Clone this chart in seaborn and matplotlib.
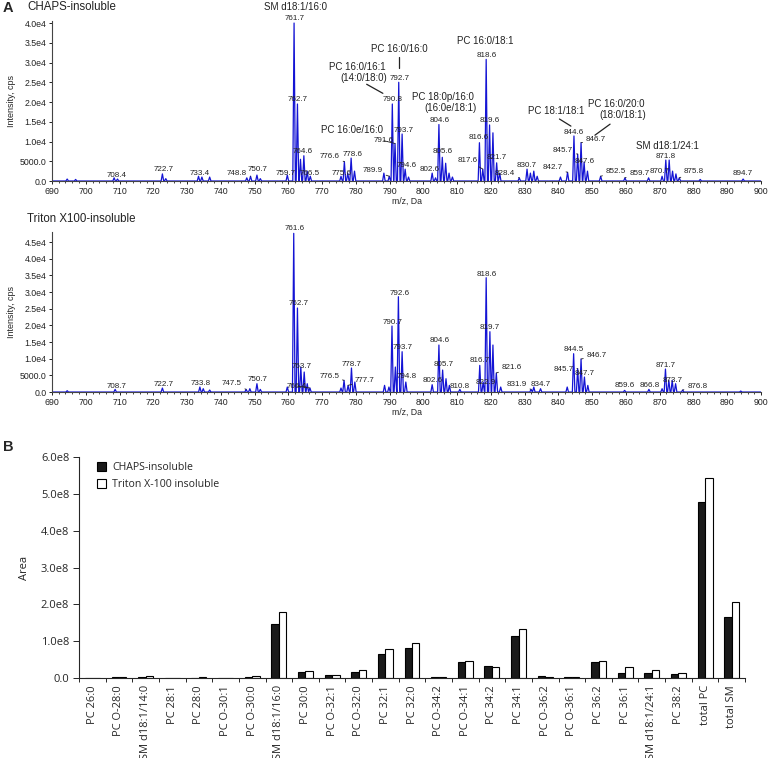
import matplotlib
matplotlib.use("Agg")
import pandas as pd
import matplotlib.pyplot as plt
import seaborn as sns
from matplotlib.ticker import MultipleLocator

# ---------------- panel A: peak lists (m/z, intensity in 1e4 cps) ----------------
chaps_mz = [694.5, 697.0, 708.4, 709.4, 722.7, 723.7, 733.4, 734.4, 736.7, 747.7, 748.8, 750.7,
            751.7, 759.7, 761.7, 762.7, 763.6, 764.6, 765.6, 766.5, 775.6, 776.6, 777.6, 778.6,
            779.6, 788.3, 789.9, 790.8, 791.6, 792.7, 793.7, 794.6, 795.6, 802.6, 803.6, 804.6,
            805.6, 806.6, 807.6, 808.6, 816.6, 817.6, 818.6, 819.6, 820.6, 821.7, 822.6, 828.4,
            830.7, 831.7, 832.7, 833.7, 840.6, 842.7, 844.6, 845.7, 846.7, 847.6, 848.6, 852.5,
            859.7, 866.7, 870.7, 871.8, 872.8, 873.8, 874.8, 875.8, 882.0, 894.7]
chaps_int = [0.05, 0.04, 0.08, 0.05, 0.18, 0.06, 0.12, 0.10, 0.10, 0.08, 0.12, 0.15,
             0.06, 0.15, 4.00, 1.95, 0.55, 0.64, 0.25, 0.12, 0.12, 0.49, 0.20, 0.58,
             0.25, 0.20, 0.12, 1.95, 0.95, 2.50, 1.19, 0.30, 0.10, 0.20, 0.08, 1.43,
             0.60, 0.45, 0.20, 0.10, 0.97, 0.30, 3.08, 1.42, 1.22, 0.46, 0.20, 0.08,
             0.30, 0.20, 0.25, 0.12, 0.10, 0.22, 1.14, 0.68, 0.97, 0.48, 0.25, 0.12,
             0.08, 0.08, 0.12, 0.53, 0.53, 0.25, 0.18, 0.08, 0.04, 0.05]

triton_mz = [694.5, 708.7, 722.7, 733.8, 734.8, 736.7, 747.5, 748.6, 750.7, 751.7, 759.7, 761.6,
             762.7, 763.7, 764.7, 765.6, 766.4, 775.6, 776.5, 777.7, 778.7, 779.7, 788.5, 789.8,
             790.7, 791.7, 792.6, 793.7, 794.8, 802.6, 804.6, 805.7, 806.7, 807.7, 810.8, 816.7,
             817.7, 818.6, 819.7, 820.6, 821.6, 822.9, 831.9, 832.7, 834.7, 842.6, 844.5, 845.7,
             846.7, 847.7, 848.7, 859.6, 866.8, 870.7, 871.7, 872.7, 873.7, 874.7, 876.8, 894.0]
triton_int = [0.04, 0.08, 0.12, 0.15, 0.10, 0.06, 0.08, 0.10, 0.25, 0.08, 0.15, 4.76,
              2.52, 0.75, 0.60, 0.25, 0.12, 0.12, 0.35, 0.20, 0.72, 0.30, 0.20, 0.15,
              1.98, 0.75, 2.86, 1.21, 0.30, 0.22, 1.41, 0.66, 0.40, 0.20, 0.08, 0.80,
              0.30, 3.43, 1.81, 1.41, 0.57, 0.15, 0.08, 0.15, 0.10, 0.15, 1.15, 0.70,
              0.99, 0.45, 0.20, 0.05, 0.08, 0.10, 0.69, 0.35, 0.35, 0.25, 0.06, 0.03]

# peak labels: (text, label m/z, label height, leader line to the peak?)
chaps_labels = [
    ("708.4", 709.2, 0.15, False), ("722.7", 723.2, 0.28, False), ("733.4", 733.8, 0.20, False),
    ("748.8", 744.8, 0.20, True), ("750.7", 751.0, 0.28, False), ("759.7", 759.3, 0.18, False),
    ("761.7", 762.0, 4.12, False), ("SM d18:1/16:0", 762.0, 4.41, False),
    ("762.7", 762.9, 2.07, False), ("764.6", 764.4, 0.74, False), ("766.5", 766.4, 0.19, False),
    ("775.6", 775.8, 0.19, False), ("776.6", 772.3, 0.62, True), ("778.6", 779.1, 0.68, False),
    ("PC 16:0e/16:0", 778.9, 1.29, False), ("789.9", 785.0, 0.26, True),
    ("790.8", 790.8, 2.07, False), ("791.6", 788.3, 1.02, True), ("792.7", 792.9, 2.60, False),
    ("793.7", 794.1, 1.27, False), ("794.6", 795.1, 0.39, False),
    ("PC 16:0/16:0", 792.8, 3.34, False), ("PC 16:0/16:1", 780.3, 2.89, False),
    ("(14:0/18:0)", 782.4, 2.60, False), ("802.6", 801.8, 0.28, False),
    ("804.6", 804.7, 1.54, False), ("805.6", 805.7, 0.74, False),
    ("PC 18:0p/16:0", 805.8, 2.13, False), ("(16:0e/18:1)", 808.1, 1.85, False),
    ("816.6", 816.5, 1.09, False), ("817.6", 813.2, 0.53, True), ("818.6", 818.8, 3.19, False),
    ("PC 16:0/18:1", 818.4, 3.54, False), ("819.6", 819.7, 1.54, False),
    ("821.7", 821.7, 0.59, False), ("828.4", 824.2, 0.20, True), ("830.7", 830.6, 0.40, False),
    ("842.7", 838.3, 0.33, True), ("844.6", 844.6, 1.24, False), ("845.7", 841.4, 0.76, True),
    ("846.7", 851.1, 1.04, True), ("847.6", 847.9, 0.50, False),
    ("PC 18:1/18:1", 839.3, 1.77, False), ("PC 16:0/20:0", 857.2, 1.95, False),
    ("(18:0/18:1)", 859.0, 1.66, False), ("852.5", 857.0, 0.23, True),
    ("859.7", 864.0, 0.20, True), ("870.7", 869.9, 0.23, False), ("871.8", 871.8, 0.63, False),
    ("SM d18:1/24:1", 872.3, 0.89, False), ("875.8", 880.2, 0.23, True),
    ("894.7", 894.6, 0.18, False),
]
# extra leader lines from compound names
chaps_leaders = [((792.7, 3.15), (792.7, 2.85)), ((783.2, 2.45), (788.0, 2.22)),
                 ((840.3, 1.57), (843.7, 1.39)), ((855.3, 1.44), (850.8, 1.16))]

triton_labels = [
    ("708.7", 709.2, 0.18, False), ("722.7", 723.2, 0.23, False), ("733.8", 734.1, 0.26, False),
    ("747.5", 743.2, 0.26, True), ("750.7", 750.9, 0.38, False), ("766.4", 762.5, 0.18, True),
    ("761.6", 762.0, 4.90, False), ("762.7", 763.0, 2.66, False), ("763.7", 764.0, 0.76, False),
    ("776.5", 772.1, 0.48, True), ("778.7", 778.8, 0.84, False), ("777.7", 782.7, 0.34, True),
    ("790.7", 790.9, 2.09, False), ("792.6", 792.9, 2.97, False), ("793.7", 793.9, 1.33, False),
    ("794.8", 795.1, 0.48, False), ("802.6", 802.8, 0.36, False), ("804.6", 804.7, 1.54, False),
    ("805.7", 805.9, 0.84, False), ("810.8", 810.9, 0.18, False), ("816.7", 816.8, 0.94, False),
    ("818.6", 818.8, 3.53, False), ("819.7", 819.7, 1.93, False), ("821.6", 826.2, 0.74, True),
    ("822.9", 818.6, 0.28, False), ("831.9", 827.6, 0.23, True), ("834.7", 834.8, 0.23, False),
    ("844.5", 844.6, 1.29, False), ("845.7", 841.5, 0.69, True), ("846.7", 851.3, 1.09, True),
    ("847.7", 847.9, 0.56, False), ("859.6", 859.7, 0.21, False), ("866.8", 866.9, 0.21, False),
    ("871.7", 871.8, 0.81, False), ("873.7", 873.9, 0.36, False), ("876.8", 881.1, 0.18, True),
]

# ---------------- panel B: bar data ----------------
lipids = ["PC 26:0", "PC O-28:0", "SM d18:1/14:0", "PC 28:1", "PC 28:0", "PC O-30:1",
          "PC O-30:0", "SM d18:1/16:0", "PC 30:0", "PC O-32:1", "PC O-32:0", "PC 32:1",
          "PC 32:0", "PC O-34:2", "PC O-34:1", "PC 34:2", "PC 34:1", "PC O-36:2",
          "PC O-36:1", "PC 36:2", "PC 36:1", "SM d18:1/24:1", "PC 38:2", "total PC", "total SM"]
chaps_area = [0.002, 0.02, 0.02, 0.005, 0.005, 0.005, 0.03, 1.48, 0.16, 0.07, 0.16, 0.65,
              0.81, 0.02, 0.43, 0.34, 1.13, 0.05, 0.02, 0.43, 0.13, 0.14, 0.10, 4.77, 1.66]
triton_area = [0.01, 0.04, 0.06, 0.01, 0.015, 0.01, 0.06, 1.78, 0.19, 0.09, 0.23, 0.80,
               0.94, 0.03, 0.45, 0.30, 1.32, 0.04, 0.03, 0.46, 0.30, 0.22, 0.14, 5.44, 2.06]

sns.set_style("ticks")
plt.rcParams["font.family"] = ["Liberation Sans", "DejaVu Sans"]

fig = plt.figure(figsize=(7.68, 7.58), dpi=100)
blue = "#1414d4"


def spectrum_trace(mz, inten, hw=0.38):
    xs, ys = [690.0], [0.0]
    for m, h in sorted(zip(mz, inten)):
        xs += [m - hw, m, m + hw]
        ys += [0.0, h * 1e4, 0.0]
    xs.append(900.0)
    ys.append(0.0)
    return pd.DataFrame({"mz": xs, "cps": ys})


def draw_spectrum(ax, mz, inten, labels, ymax, ytop, leaders=()):
    df = spectrum_trace(mz, inten)
    sns.lineplot(data=df, x="mz", y="cps", sort=False, estimator=None,
                 color=blue, lw=0.9, ax=ax)
    ax.set_xlim(690, 900)
    ax.set_ylim(0, ymax)
    sns.despine(ax=ax)
    ax.xaxis.set_major_locator(MultipleLocator(10))
    ax.xaxis.set_minor_locator(MultipleLocator(2))
    yt = [i * 5000 for i in range(int(ytop / 5000) + 1)]
    ax.set_yticks(yt)
    ax.set_yticklabels(["0.0", "5000.0"] + [f"{v / 1e4:.1f}e4" for v in yt[2:]])
    ax.tick_params(axis="both", labelsize=6.3, length=2.5, width=0.7, pad=1.5, colors="#222222")
    ax.tick_params(axis="x", which="minor", length=1.5, width=0.6)
    for s in ax.spines.values():
        s.set_linewidth(0.8)
        s.set_color("#444444")
    ax.set_xlabel("m/z, Da", fontsize=6.3, labelpad=1)
    ax.set_ylabel("Intensity, cps", fontsize=6.5, labelpad=3)
    peaks = dict(zip(mz, inten))
    for text, tx, ty, lead in labels:
        size = 5.8 if text[0].isdigit() else 7
        if lead:
            pm = float(text)
            ax.annotate(text, xy=(pm, peaks.get(pm, 0.1) * 1e4), xytext=(tx, ty * 1e4),
                        ha="center", va="center", fontsize=size, color="#222222",
                        arrowprops=dict(arrowstyle="-", lw=0.6, color="#222222",
                                        shrinkA=0, shrinkB=0))
        else:
            ax.text(tx, ty * 1e4, text, ha="center", va="center", fontsize=size,
                    color="#222222", clip_on=False)
    for (x0, y0), (x1, y1) in leaders:
        ax.plot([x0, x1], [y0 * 1e4, y1 * 1e4], color="#222222", lw=0.9)


ax1 = fig.add_axes([0.0677, 0.7612, 0.9232, 0.2110])
draw_spectrum(ax1, chaps_mz, chaps_int, chaps_labels, 4.05e4, 4.0e4, chaps_leaders)

ax2 = fig.add_axes([0.0677, 0.4828, 0.9232, 0.2111])
draw_spectrum(ax2, triton_mz, triton_int, triton_labels, 4.8e4, 4.5e4)

fig.text(0.035, 0.991, "CHAPS-insoluble", fontsize=8.3, va="center", color="#222222")
fig.text(0.035, 0.7107, "Triton X100-insoluble", fontsize=8.3, va="center", color="#222222")
fig.text(0.004, 0.989, "A", fontsize=10.5, fontweight="bold", va="center")
fig.text(0.004, 0.410, "B", fontsize=10.5, fontweight="bold", va="center")

# ---------------- panel B ----------------
bars = pd.DataFrame({
    "lipid": lipids * 2,
    "area": [v * 1e8 for v in chaps_area + triton_area],
    "fraction": ["CHAPS-insoluble"] * len(lipids) + ["Triton X-100 insoluble"] * len(lipids),
})
ax3 = fig.add_axes([0.1029, 0.1055, 0.8672, 0.2916])
sns.barplot(data=bars, x="lipid", y="area", hue="fraction", order=lipids,
            palette={"CHAPS-insoluble": "#1a1a1a", "Triton X-100 insoluble": "white"},
            edgecolor="black", linewidth=0.8, width=0.56, gap=0, ax=ax3)
ax3.set_xlim(-0.5, len(lipids) - 0.5)
ax3.set_ylim(0, 6e8)
sns.despine(ax=ax3)
bfont = "Open Sans"
ax3.set_yticks([i * 1e8 for i in range(7)])
ax3.set_yticklabels(["0.0"] + [f"{i}.0e8" for i in range(1, 7)], fontfamily=bfont, fontsize=8)
ax3.set_xticks(range(len(lipids)))
ax3.set_xticklabels(lipids, rotation=90, fontfamily=bfont, fontsize=8)
ax3.set_xticks([i + 0.5 for i in range(-1, len(lipids))], minor=True)
ax3.tick_params(axis="x", which="major", length=0, pad=5)
ax3.tick_params(axis="x", which="minor", length=3, width=0.7)
ax3.tick_params(axis="y", length=4, width=0.7, pad=3)
for s in ax3.spines.values():
    s.set_linewidth(0.8)
ax3.set_xlabel("")
ax3.set_ylabel("Area", fontfamily=bfont, fontsize=8, labelpad=8)
sns.move_legend(ax3, "upper left", bbox_to_anchor=(0.012, 1.02), frameon=False, title=None,
                handlelength=0.9, handleheight=0.9, handletextpad=0.6, labelspacing=0.6,
                prop={"family": bfont, "size": 7.6})

fig.savefig("out.png", dpi=100)
